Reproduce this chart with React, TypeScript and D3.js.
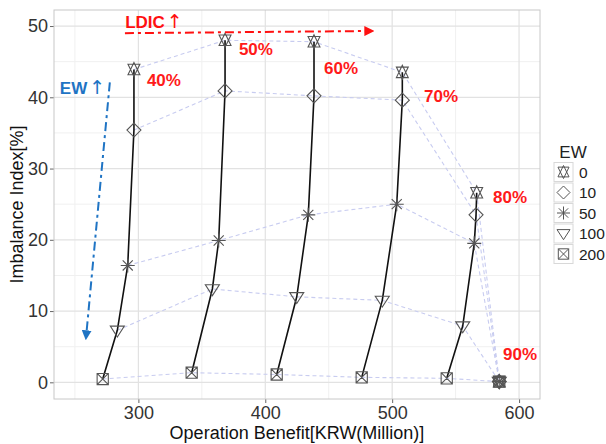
import React, { useEffect, useRef } from "react";
import * as d3 from "d3";

// LDIC share for each group, and EW levels
const groups = ["40%", "50%", "60%", "70%", "80%", "90%"];
const ewLevels = ["0", "10", "50", "100", "200"];

// operation benefit (KRW million) per group, one array per EW level
const benefitEW0 = [296.5, 368.3, 438.4, 508.0, 566.6, 584.4];
const benefitEW10 = [296.5, 368.3, 438.4, 508.0, 566.1, 584.4];
const benefitEW50 = [291.6, 363.3, 433.9, 503.6, 564.7, 584.4];
const benefitEW100 = [283.4, 358.3, 424.8, 492.2, 555.6, 584.4];
const benefitEW200 = [271.9, 342.0, 409.0, 476.0, 543.0, 584.4];

// imbalance index (%) per group
const imbalanceEW0 = [43.9, 48.0, 47.8, 43.5, 26.6, 0.1];
const imbalanceEW10 = [35.4, 40.9, 40.2, 39.6, 23.5, 0.1];
const imbalanceEW50 = [16.4, 19.9, 23.5, 25.0, 19.5, 0.1];
const imbalanceEW100 = [7.3, 13.1, 12.0, 11.5, 7.9, 0.1];
const imbalanceEW200 = [0.46, 1.35, 1.1, 0.7, 0.56, 0.1];

const xTicks = [300, 400, 500, 600];
const yTicks = [0, 10, 20, 30, 40, 50];

// where the group labels sit (data coords, left/baseline)
const labelX = [306.7, 379.2, 446.3, 525.1, 579.5, 587.4];
const labelY = [41.6, 45.9, 43.3, 39.3, 25.2, 3.1];

const benefits = [benefitEW0, benefitEW10, benefitEW50, benefitEW100, benefitEW200];
const imbalances = [imbalanceEW0, imbalanceEW10, imbalanceEW50, imbalanceEW100, imbalanceEW200];
const shapes = ["updown", "diamond", "asterisk", "tridown", "boxx"];

function shapePath(kind: string, s: number) {
  const p = d3.path();
  if (kind === "updown") {
    const w = s * 0.85;
    p.moveTo(0, -s); p.lineTo(w, s * 0.75); p.lineTo(-w, s * 0.75); p.closePath();
    p.moveTo(-w, -s * 0.75); p.lineTo(w, -s * 0.75); p.lineTo(0, s); p.closePath();
  } else if (kind === "diamond") {
    p.moveTo(0, -s); p.lineTo(s, 0); p.lineTo(0, s); p.lineTo(-s, 0); p.closePath();
  } else if (kind === "asterisk") {
    const d = s * 0.72;
    p.moveTo(-s, 0); p.lineTo(s, 0);
    p.moveTo(0, -s); p.lineTo(0, s);
    p.moveTo(-d, -d); p.lineTo(d, d);
    p.moveTo(-d, d); p.lineTo(d, -d);
  } else if (kind === "tridown") {
    p.moveTo(-s, -s * 0.6); p.lineTo(s, -s * 0.6); p.lineTo(0, s * 0.95); p.closePath();
  } else {
    const h = s * 0.8;
    p.rect(-h, -h, 2 * h, 2 * h);
    p.moveTo(-h, -h); p.lineTo(h, h);
    p.moveTo(-h, h); p.lineTo(h, -h);
  }
  return p.toString();
}

export default function App() {
  const ref = useRef<SVGSVGElement>(null);

  useEffect(() => {
    const svg = d3.select(ref.current);
    svg.selectAll("*").remove();

    const x = d3.scaleLinear().domain([233.5, 616.5]).range([54, 540]);
    const y = d3.scaleLinear().domain([-2.34, 52.25]).range([399, 10]);
    const font = "'Liberation Sans', Arial, sans-serif";

    const defs = svg.append("defs");
    [["arrRed", "#ff1010"], ["arrBlue", "#1f74c4"]].forEach(([id, c]) => {
      defs.append("marker").attr("id", id)
        .attr("viewBox", "0 0 10 10").attr("refX", 5).attr("refY", 5)
        .attr("markerWidth", 5).attr("markerHeight", 5)
        .attr("orient", "auto").attr("markerUnits", "strokeWidth")
        .append("path").attr("d", "M0,0L10,5L0,10z").attr("fill", c);
    });

    svg.append("rect").attr("width", 606).attr("height", 444).attr("fill", "#fff");

    // grid
    const g = svg.append("g");
    d3.range(250, 601, 100).forEach(v => {
      g.append("line").attr("x1", x(v)).attr("x2", x(v)).attr("y1", 10).attr("y2", 399)
        .attr("stroke", "#f0f0f0").attr("stroke-width", 1);
    });
    d3.range(5, 51, 10).forEach(v => {
      g.append("line").attr("x1", 54).attr("x2", 540).attr("y1", y(v)).attr("y2", y(v))
        .attr("stroke", "#f0f0f0").attr("stroke-width", 1);
    });
    xTicks.forEach(v => {
      g.append("line").attr("x1", x(v)).attr("x2", x(v)).attr("y1", 10).attr("y2", 399)
        .attr("stroke", "#e2e2e2").attr("stroke-width", 1.2);
    });
    yTicks.forEach(v => {
      g.append("line").attr("x1", 54).attr("x2", 540).attr("y1", y(v)).attr("y2", y(v))
        .attr("stroke", "#e2e2e2").attr("stroke-width", 1.2);
    });

    // axes
    const xAxis = svg.append("g").attr("transform", "translate(0,399)")
      .call(d3.axisBottom(x).tickValues(xTicks).tickSize(4).tickPadding(3));
    const yAxis = svg.append("g").attr("transform", "translate(54,0)")
      .call(d3.axisLeft(y).tickValues(yTicks).tickSize(4).tickPadding(2));
    [xAxis, yAxis].forEach(a => {
      a.select(".domain").remove();
      a.selectAll("line").attr("stroke", "#666");
      a.selectAll("text").attr("font-family", font).attr("font-size", 18).attr("fill", "#333");
    });

    svg.append("rect").attr("x", 54).attr("y", 10).attr("width", 486).attr("height", 389)
      .attr("fill", "none").attr("stroke", "#c8c8c8").attr("stroke-width", 1);

    svg.append("text").attr("x", 297).attr("y", 439).attr("text-anchor", "middle")
      .attr("font-family", font).attr("font-size", 18).attr("fill", "#111")
      .text("Operation Benefit[KRW(Million)]");
    svg.append("text").attr("transform", "translate(23,204.5) rotate(-90)")
      .attr("text-anchor", "middle").attr("font-family", font).attr("font-size", 18).attr("fill", "#111")
      .text("Imbalance Index[%]");

    const line = d3.line<[number, number]>().x(d => x(d[0])).y(d => y(d[1]));

    // dashed lines across groups for each EW
    ewLevels.forEach((_, e) => {
      const pts = groups.map((_, i) => [benefits[e][i], imbalances[e][i]] as [number, number]);
      svg.append("path").attr("d", line(pts)).attr("fill", "none")
        .attr("stroke", "#c8ccf0").attr("stroke-width", 1.1).attr("stroke-dasharray", "4,3");
    });

    // solid lines within group
    groups.forEach((_, i) => {
      const pts = ewLevels.map((_, e) => [benefits[e][i], imbalances[e][i]] as [number, number]);
      svg.append("path").attr("d", line(pts)).attr("fill", "none")
        .attr("stroke", "#111").attr("stroke-width", 1.6);
    });

    // markers
    ewLevels.forEach((_, e) => {
      groups.forEach((_, i) => {
        svg.append("path").attr("d", shapePath(shapes[e], 7))
          .attr("transform", `translate(${x(benefits[e][i])},${y(imbalances[e][i])})`)
          .attr("fill", "none").attr("stroke", "#555").attr("stroke-width", 1.1);
      });
    });

    // group labels
    groups.forEach((lab, i) => {
      svg.append("text").attr("x", x(labelX[i])).attr("y", y(labelY[i]))
        .attr("font-family", font).attr("font-size", 17).attr("font-weight", "bold")
        .attr("fill", "#ff1a1a").text(lab);
    });

    // LDIC arrow
    svg.append("line").attr("x1", x(289.4)).attr("y1", y(49.0)).attr("x2", x(482)).attr("y2", y(49.3))
      .attr("stroke", "#ff1010").attr("stroke-width", 2).attr("stroke-dasharray", "9,4,3,4")
      .attr("marker-end", "url(#arrRed)");
    const ldic = svg.append("text").attr("x", x(289.6)).attr("y", y(49.7))
      .attr("font-family", font).attr("font-size", 17).attr("font-weight", "bold")
      .attr("fill", "#ff1010");
    ldic.append("tspan").text("LDIC");
    ldic.append("tspan").attr("dx", 2).attr("font-family", "'DejaVu Sans', sans-serif")
      .attr("font-size", 19).attr("font-weight", "normal").text("\u2191");

    // EW arrow
    svg.append("line").attr("x1", x(277.5)).attr("y1", y(42.1)).attr("x2", x(258.9)).attr("y2", y(6.6))
      .attr("stroke", "#1f74c4").attr("stroke-width", 2).attr("stroke-dasharray", "9,4,3,4")
      .attr("marker-end", "url(#arrBlue)");
    const ew = svg.append("text").attr("x", x(238.1)).attr("y", y(40.5))
      .attr("font-family", font).attr("font-size", 17).attr("font-weight", "bold")
      .attr("fill", "#1f74c4");
    ew.append("tspan").text("EW");
    ew.append("tspan").attr("dx", 2).attr("font-family", "'DejaVu Sans', sans-serif")
      .attr("font-size", 19).attr("font-weight", "normal").text("\u2191");

    // legend
    const lg = svg.append("g");
    lg.append("text").attr("x", 573).attr("y", 158).attr("text-anchor", "middle")
      .attr("font-family", font).attr("font-size", 17).attr("fill", "#222").text("EW");
    ewLevels.forEach((lab, e) => {
      const cy = 172 + e * 20.5;
      lg.append("rect").attr("x", 554).attr("y", cy - 9.5).attr("width", 19).attr("height", 19)
        .attr("fill", "#fff").attr("stroke", "#d8d8d8").attr("stroke-width", 1);
      lg.append("path").attr("d", shapePath(shapes[e], 6.5))
        .attr("transform", `translate(563.5,${cy})`)
        .attr("fill", "none").attr("stroke", "#555").attr("stroke-width", 1);
      lg.append("text").attr("x", 579).attr("y", cy + 5.5)
        .attr("font-family", font).attr("font-size", 15.5).attr("fill", "#222").text(lab);
    });
  }, []);

  return (
    <svg ref={ref} width={606} height={444} style={{ position: "absolute", left: 0, top: 0 }} />
  );
}
